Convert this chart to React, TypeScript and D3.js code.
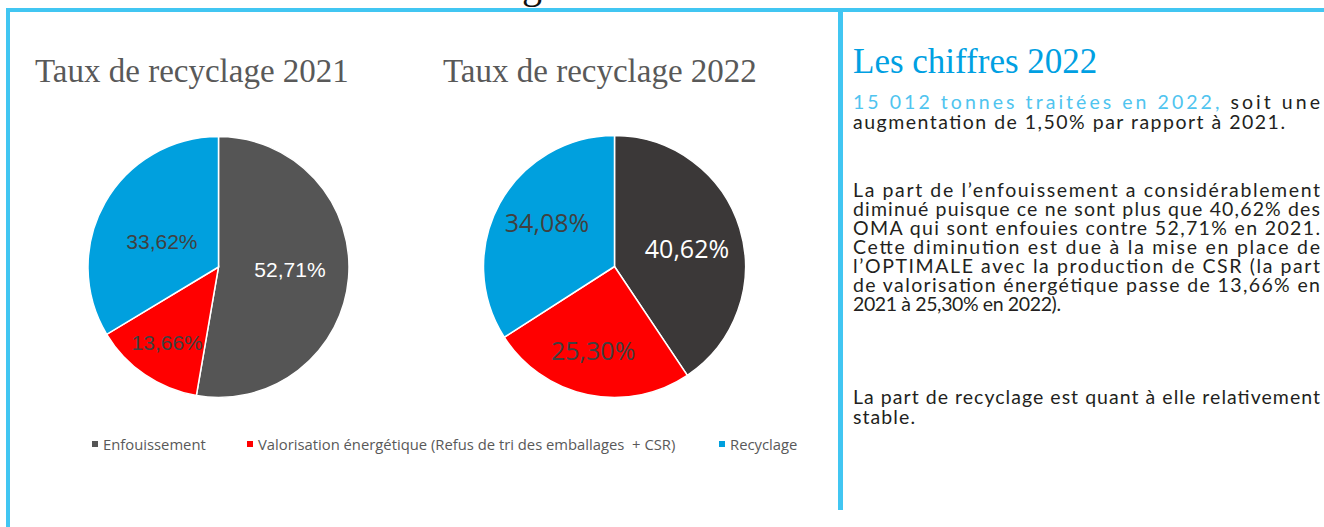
import * as d3 from "d3";

// categories + shares (%)
const categories = [
  "Enfouissement",
  "Valorisation énergétique (Refus de tri des emballages  + CSR)",
  "Recyclage",
];
const years = ["2021", "2022"];
const shares2021 = [52.71, 13.66, 33.62];
const shares2022 = [40.62, 25.3, 34.08];

// right hand text block
const heading = "Les chiffres 2022";
const introHighlight = "15 012 tonnes traitées en 2022,";
const introRest = "soit une";
const introLast = "augmentation de 1,50% par rapport à 2021.";
const para2 = [
  "La part de l’enfouissement a considérablement",
  "diminué puisque ce ne sont plus que 40,62% des",
  "OMA qui sont enfouies contre 52,71% en 2021.",
  "Cette diminution est due à la mise en place de",
  "l’OPTIMALE avec la production de CSR (la part",
  "de valorisation énergétique passe de 13,66% en",
  "2021 à 25,30% en 2022).",
];
const para3 = ["La part de recyclage est quant à elle relativement", "stable."];

const W = 1324;
const H = 527;
const cyan = "#41C6F2";
const red = "#FF0000";
const blue = "#00A0DE";
const textDark = "#231F20";
const bodyFont = "Lato, 'Open Sans', sans-serif";
const legendFont = "'Open Sans', sans-serif";
const serif = "'Liberation Serif', 'Times New Roman', serif";

const fr = d3.formatLocale({
  decimal: ",",
  thousands: " ",
  grouping: [3],
  currency: ["", " €"],
});
const pct = (v: number) => fr.format(".2f")(v) + "%";

// label placement: radius as share of r, small angle nudge in degrees
const charts = [
  {
    year: years[0],
    values: shares2021,
    cx: 218.5,
    cy: 267,
    r: 130.5,
    titleX: 35,
    dark: "#555555",
    font: "'Liberation Sans', Arial, sans-serif",
    fontSize: 21,
    labelK: [0.548, 0.697, 0.475],
    labelA: [-2.5, 0, -5.4],
  },
  {
    year: years[1],
    values: shares2022,
    cx: 614.5,
    cy: 266.5,
    r: 131,
    titleX: 443,
    dark: "#3B3838",
    font: "'Open Sans', sans-serif",
    fontSize: 25,
    labelK: [0.571, 0.657, 0.617],
    labelA: [2.6, 2.6, 4.7],
  },
];

const legendX = [92, 247, 719];

function Pie({ c }: { c: (typeof charts)[number] }) {
  const colors = [c.dark, red, blue];
  const slices = d3.pie<number>().sort(null).value((d) => d)(c.values);
  const arc = d3.arc<d3.PieArcDatum<number>>().innerRadius(0).outerRadius(c.r);
  return (
    <g>
      <text x={c.titleX} y={82} fontFamily={serif} fontSize={33} fill="#595959">
        {"Taux de recyclage " + c.year}
      </text>
      <g transform={`translate(${c.cx},${c.cy})`}>
        {slices.map((s, i) => (
          <path key={i} d={arc(s) || ""} fill={colors[i]} stroke="#fff" strokeWidth={1.5} />
        ))}
        {slices.map((s, i) => {
          const mid = (s.startAngle + s.endAngle) / 2 + (c.labelA[i] * Math.PI) / 180;
          const [lx, ly] = d3.pointRadial(mid, c.labelK[i] * c.r);
          return (
            <text
              key={i}
              x={lx}
              y={ly}
              textAnchor="middle"
              dominantBaseline="central"
              fontFamily={c.font}
              fontSize={c.fontSize}
              fill={i === 0 ? "#fff" : "#404040"}
            >
              {pct(s.data)}
            </text>
          );
        })}
      </g>
    </g>
  );
}

export default function App() {
  const lineH = 19;
  const textX = 853;
  const textW = 467;
  const bodySize = 19.5;
  // widths of the unjustified closing lines
  const lastW = [208, 62];
  return (
    <svg
      width={W}
      height={H}
      style={{ position: "absolute", left: 0, top: 0, display: "block", background: "#fff" }}
    >
      {/* cut-off heading glyph above the frame */}
      <text x={532} y={-2} textAnchor="middle" fontFamily={serif} fontSize={40} fill="#111">
        g
      </text>

      {/* frame */}
      <rect x={6} y={8} width={W - 6} height={4} fill={cyan} />
      <rect x={6} y={8} width={4} height={H - 8} fill={cyan} />
      <rect x={838} y={8} width={5} height={502} fill={cyan} />

      {charts.map((c) => (
        <Pie key={c.year} c={c} />
      ))}

      {/* legend */}
      {categories.map((name, i) => (
        <g key={name} transform={`translate(${legendX[i]},444)`}>
          <rect x={0} y={-3} width={6} height={6} fill={[charts[0].dark, red, blue][i]} />
          <text
            x={11}
            y={0}
            dominantBaseline="central"
            fontFamily={legendFont}
            fontSize={14.8}
            fill="#595959"
            style={{ whiteSpace: "pre" }}
          >
            {name}
          </text>
        </g>
      ))}

      {/* right column */}
      <text x={textX} y={73} fontFamily={serif} fontSize={35} fill="#00A0E2">
        {heading}
      </text>
      <text
        x={textX}
        y={109}
        fontFamily={bodyFont}
        fontSize={bodySize}
        textLength={textW}
        lengthAdjust="spacing"
      >
        <tspan fill="#4FC4EF">{introHighlight}</tspan>
        <tspan fill={textDark}>{" " + introRest}</tspan>
      </text>
      <text
        x={textX}
        y={129}
        fontFamily={bodyFont}
        fontSize={bodySize}
        fill={textDark}
        textLength={432}
        lengthAdjust="spacing"
      >
        {introLast}
      </text>

      {[para2, para3].map((para, p) => {
        const top = p === 0 ? 197 : 404;
        const step = p === 0 ? lineH : 20;
        return para.map((line, i) => {
          const last = i === para.length - 1;
          return (
            <text
              key={p + "-" + i}
              x={textX}
              y={top + i * step}
              fontFamily={bodyFont}
              fontSize={bodySize}
              fill={textDark}
              textLength={last ? lastW[p] : textW}
              lengthAdjust="spacing"
            >
              {line}
            </text>
          );
        });
      })}
    </svg>
  );
}
